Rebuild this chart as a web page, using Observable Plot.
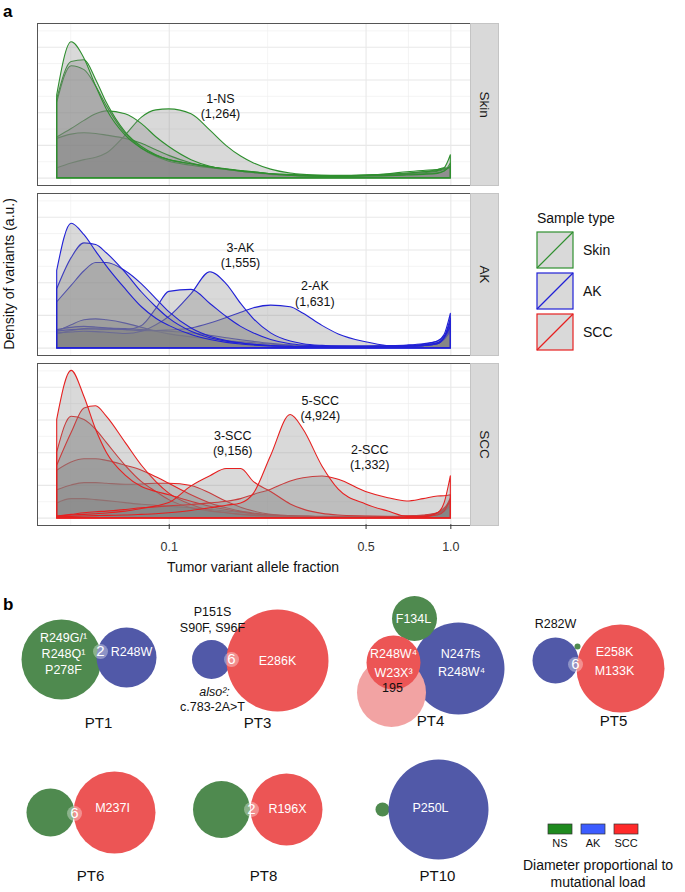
<!DOCTYPE html>
<html>
<head>
<meta charset="utf-8">
<script src="https://cdn.jsdelivr.net/npm/d3@7"></script>
<script src="https://cdn.jsdelivr.net/npm/@observablehq/plot@0.6"></script>
<style>
  html, body { margin: 0; padding: 0; background: #fff; }
  #root { position: relative; width: 685px; height: 892px; overflow: hidden; font-family: "Liberation Sans", Arial, Helvetica, sans-serif; }
</style>
</head>
<body>
<div id="root"></div>
<script>
const FONT = '"Liberation Sans", Arial, Helvetica, sans-serif';

// ================= Panel a data =================
const sampleTypes = ["Skin", "AK", "SCC"];
const lineColors = ["#2f8f2f", "#2121d6", "#e62020"];
const vafGrid = [0.04,0.045,0.05,0.055,0.06,0.07,0.08,0.09,0.1,0.12,0.14,0.16,0.18,0.2,0.23,0.27,0.3,0.35,0.4,0.5,0.6,0.7,0.8,0.9,0.95,1.0];

// density (a.u.) of each sample at vafGrid, drawing order
const skinDensity = [
  [0.3,0.45,0.55,0.62,0.75,1.3,1.85,2.07,2.1,1.95,1.45,0.98,0.66,0.45,0.26,0.14,0.1,0.07,0.06,0.06,0.08,0.12,0.18,0.25,0.3,0.28],   // 1-NS
  [1.2,1.33,1.37,1.35,1.3,1.2,1.05,0.85,0.68,0.45,0.32,0.25,0.2,0.15,0.1,0.08,0.07,0.06,0.06,0.08,0.12,0.18,0.22,0.25,0.27,0.3],
  [1.24,1.5,1.75,1.95,2.04,1.95,1.65,1.25,0.95,0.55,0.35,0.25,0.2,0.16,0.12,0.1,0.08,0.07,0.07,0.08,0.1,0.12,0.15,0.2,0.25,0.3],
  [2.3,3.42,3.3,2.8,2.2,1.35,0.9,0.65,0.5,0.38,0.3,0.25,0.2,0.17,0.12,0.08,0.06,0.05,0.05,0.06,0.08,0.1,0.12,0.15,0.2,0.45],
  [2.4,3.55,3.6,3.0,2.3,1.4,0.95,0.7,0.55,0.42,0.33,0.27,0.22,0.18,0.12,0.08,0.06,0.05,0.05,0.07,0.1,0.14,0.18,0.22,0.3,0.7],
  [2.53,4.15,3.65,2.8,2.1,1.3,0.9,0.68,0.55,0.43,0.33,0.26,0.2,0.16,0.11,0.07,0.05,0.04,0.04,0.05,0.06,0.08,0.1,0.13,0.2,0.35]
];
const akDensity = [
  [0.5,0.7,0.85,0.88,0.85,0.75,0.62,0.5,0.42,0.33,0.27,0.22,0.18,0.15,0.11,0.08,0.06,0.05,0.05,0.05,0.06,0.08,0.12,0.2,0.35,0.7],
  [0.42,0.52,0.58,0.6,0.6,0.58,0.55,0.52,0.5,0.45,0.38,0.3,0.24,0.19,0.13,0.08,0.06,0.04,0.04,0.04,0.05,0.06,0.1,0.2,0.4,1.05],
  [0.55,0.62,0.65,0.63,0.6,0.55,0.52,0.52,0.54,0.6,0.75,0.92,1.08,1.22,1.3,1.25,1.05,0.68,0.42,0.18,0.06,0.03,0.05,0.12,0.3,0.9],  // 2-AK
  [0.45,0.48,0.5,0.49,0.47,0.43,0.5,0.7,0.95,1.65,2.32,1.95,1.35,0.88,0.45,0.2,0.12,0.07,0.05,0.04,0.04,0.05,0.08,0.15,0.3,0.6],     // 3-AK
  [0.5,0.55,0.57,0.57,0.56,0.56,0.68,1.2,1.72,1.78,1.35,0.95,0.65,0.45,0.25,0.12,0.08,0.05,0.04,0.04,0.04,0.05,0.08,0.15,0.3,0.55],
  [1.4,1.9,2.35,2.6,2.6,2.35,1.95,1.5,1.1,0.6,0.35,0.22,0.15,0.1,0.06,0.04,0.03,0.03,0.03,0.03,0.03,0.04,0.06,0.12,0.25,0.5],
  [1.8,2.75,3.2,3.15,2.9,2.3,1.7,1.25,0.9,0.5,0.3,0.2,0.14,0.1,0.06,0.04,0.03,0.03,0.03,0.03,0.03,0.04,0.06,0.12,0.3,0.8],
  [2.36,3.8,3.45,2.95,2.5,1.8,1.25,0.9,0.68,0.4,0.25,0.16,0.11,0.08,0.05,0.04,0.03,0.03,0.03,0.03,0.03,0.04,0.06,0.12,0.3,0.65]
];
const sccDensity = [
  [0.45,0.58,0.58,0.55,0.52,0.46,0.41,0.38,0.35,0.3,0.25,0.2,0.16,0.12,0.08,0.06,0.05,0.04,0.04,0.04,0.04,0.05,0.08,0.15,0.25,0.45],
  [0.85,1.0,1.07,1.07,1.05,1.02,1.03,1.05,1.05,0.98,0.75,0.5,0.32,0.2,0.1,0.06,0.04,0.03,0.03,0.03,0.03,0.04,0.06,0.12,0.2,0.35],
  [1.45,1.7,1.8,1.8,1.75,1.6,1.45,1.25,1.05,0.7,0.45,0.3,0.2,0.14,0.08,0.05,0.04,0.03,0.03,0.03,0.03,0.04,0.06,0.12,0.2,0.4],
  [2.0,3.1,3.0,2.7,2.3,1.6,1.1,0.8,0.55,0.3,0.2,0.15,0.1,0.08,0.05,0.04,0.03,0.03,0.03,0.03,0.03,0.04,0.06,0.12,0.25,0.6],
  [1.6,2.6,3.35,3.42,3.1,2.3,1.6,1.1,0.75,0.4,0.22,0.15,0.1,0.07,0.05,0.04,0.03,0.03,0.03,0.03,0.03,0.04,0.06,0.12,0.25,0.5],
  [3.0,4.5,3.7,2.7,2.0,1.3,0.95,0.8,0.7,0.5,0.35,0.25,0.18,0.12,0.08,0.05,0.04,0.03,0.03,0.03,0.03,0.04,0.06,0.15,0.3,0.5],
  [0.05,0.1,0.15,0.18,0.2,0.25,0.3,0.33,0.36,0.4,0.45,0.5,0.58,0.71,0.87,1.12,1.22,1.27,1.17,0.8,0.61,0.51,0.58,0.66,0.67,0.7],   // 2-SCC
  [0.05,0.08,0.1,0.12,0.14,0.2,0.28,0.36,0.46,0.97,1.28,1.5,1.5,1.1,0.8,0.42,0.26,0.13,0.08,0.05,0.03,0.02,0.03,0.08,0.2,0.55],   // 3-SCC
  [0.03,0.04,0.05,0.06,0.07,0.08,0.1,0.12,0.15,0.22,0.3,0.38,0.45,0.75,1.9,3.15,2.7,1.58,0.87,0.42,0.2,0.04,0.03,0.15,0.45,1.28]  // 5-SCC
];
const labelPanel = ["Skin", "AK", "AK", "SCC", "SCC", "SCC"];
const labelVaf   = [0.152, 0.179, 0.329, 0.344, 0.168, 0.515];
const labelY     = [2.22, 2.85, 1.68, 3.38, 2.3, 1.87];
const labelText  = ["1-NS\n(1,264)", "3-AK\n(1,555)", "2-AK\n(1,631)", "5-SCC\n(4,924)", "3-SCC\n(9,156)", "2-SCC\n(1,332)"];
const xTicks = [0.1, 0.5, 1.0];
const xTickLabels = ["0.1", "0.5", "1.0"];
const xMinor = [0.0447, 0.2236, 0.7071];
const yMajor = [0, 1, 2, 3, 4];
const yMinor = [0.5, 1.5, 2.5, 3.5, 4.5];

// ================= Panel b data =================
const typeColors = {NS: "#4f8a4f", AK: "#5159a8", SCC: "#ec5555", SCC2: "#f2a3a3"};
const legendColors = {NS: "#1f8a1f", AK: "#3c5cff", SCC: "#ff2a2a"};
// circle centres (layout units) and diameter ~ mutational load (a.u.)
const bubbleType = ["NS","AK", "AK","SCC", "AK","NS","SCC2","SCC", "AK","SCC","NS", "NS","SCC", "NS","SCC", "NS","AK"];
const bubbleX    = [61,126, 211,277, 458,414,391,393, 555,620,577, 50,114, 221,286, 382,438];
const bubbleY    = [659,657, 659,660, 668,618,692,662, 660,668,646, 812,812, 809,809, 809,809];
const bubbleLoad = [80,60, 39,102, 92,45,69,54, 46,88,6, 48,82, 57,72, 14,100];
const sharedX = [100, 231, 575, 74, 251];
const sharedY = [651, 659, 664, 813, 809];
const sharedN = ["2", "6", "6", "6", "2"];
const mutX = [63,63,63,131, 212,212,212, 277, 413,393,393,392,460,461, 555,614,614, 112,287,430];
const mutY = [637,653,669,651, 611,627,706, 660, 618,653,672,687,653,671, 623,651,670, 807,808,807];
const mutText = ["R249G/¹","R248Q¹","P278F","R248W", "P151S","S90F, S96F","c.783-2A>T", "E286K", "F134L","R248W⁴","W23X³","195","N247fs","R248W⁴", "R282W","E258K","M133K", "M237I","R196X","P250L"];
const mutDark = [0,0,0,0, 1,1,1, 0, 0,0,0,1,0,0, 1,0,0, 0,0,0];
const alsoNote = {x: 214, y: 691, text: "also²:"};
const patients = ["PT1","PT3","PT4","PT5","PT6","PT8","PT10"];
const patientX = [98, 257, 430, 613, 90, 263, 437];
const patientY = [723, 723, 721, 721, 876, 876, 876];

// ================= Build panel a =================
const densityRows = [];
[skinDensity, akDensity, sccDensity].forEach((curves, p) => {
  curves.forEach((vals, i) => vals.forEach((v, j) => densityRows.push({panel: sampleTypes[p], id: sampleTypes[p] + i, vaf: vafGrid[j], value: v})));
});
const labels = labelText.map((t, i) => ({panel: labelPanel[i], vaf: labelVaf[i], value: labelY[i], text: t}));
const ticks = xTicks.map((v, i) => ({v, label: xTickLabels[i], panel: sampleTypes[sampleTypes.length - 1]}));

const A = {width: 685, height: 592, top: 23, bottom: 67, left: 37, right: 215, padInner: 0.05};
const facetBand = (A.height - A.top - A.bottom) / (sampleTypes.length - A.padInner) * (1 - A.padInner);

const plotA = Plot.plot({
  width: A.width, height: A.height,
  marginTop: A.top, marginBottom: A.bottom, marginLeft: A.left, marginRight: A.right,
  style: {fontFamily: FONT, fontSize: "12.5px", color: "#333", background: "transparent", overflow: "visible"},
  x: {type: "log", domain: [0.03405, 1.1745], axis: null},
  y: {domain: [-0.225, 4.725], axis: null},
  fy: {domain: sampleTypes, paddingInner: A.padInner, paddingOuter: 0, axis: null, label: null},
  marks: [
    Plot.frame({fill: "white"}),
    Plot.gridY(yMinor, {stroke: "#ececec", strokeOpacity: 1, strokeWidth: 0.6}),
    Plot.gridY(yMajor, {stroke: "#e8e8e8", strokeOpacity: 1, strokeWidth: 1.1}),
    Plot.gridX(xMinor, {stroke: "#ececec", strokeOpacity: 1, strokeWidth: 0.6}),
    Plot.gridX(xTicks, {stroke: "#e8e8e8", strokeOpacity: 1, strokeWidth: 1.1}),
    ...sampleTypes.map((p, k) => Plot.area(densityRows.filter(d => d.panel === p), {
      x1: "vaf", y1: 0, y2: "value", z: "id", fy: "panel",
      fill: "#808080", fillOpacity: 0.3, stroke: lineColors[k], strokeWidth: 1.1, curve: "monotone-x"
    })),
    Plot.text(labels, {x: "vaf", y: "value", fy: "panel", text: "text", fontSize: 12.5, lineHeight: 1.22, fill: "#111", lineAnchor: "middle"}),
    Plot.frame({stroke: "#555", strokeWidth: 1}),
    Plot.frame({fill: "#d9d9d9", stroke: "#c4c4c4", insetLeft: A.width - A.left - A.right, insetRight: -28}),
    Plot.text(sampleTypes, {fy: d => d, text: d => d, frameAnchor: "right", dx: 14, rotate: 90, textAnchor: "middle", lineAnchor: "middle", fontSize: 13.5, fill: "#1a1a1a"}),
    // x axis (bottom facet only): ticks and labels
    Plot.tickX(ticks, {x: "v", fy: "panel", stroke: "#333", strokeWidth: 1, insetTop: facetBand - 0.5, insetBottom: -4}),
    Plot.text(ticks, {x: "v", fy: "panel", text: "label", frameAnchor: "bottom", dy: 21, lineAnchor: "middle", fontSize: 12.5, fill: "#333"})
  ]
});
plotA.style.position = "absolute"; plotA.style.left = "0px"; plotA.style.top = "0px";

// ================= Build panel b =================
const bubbles = bubbleType.map((t, i) => ({type: t, cx: bubbleX[i], cy: bubbleY[i], load: bubbleLoad[i]}));
const shared = sharedN.map((n, i) => ({x: sharedX[i], y: sharedY[i], n}));
const muts = mutText.map((t, i) => ({x: mutX[i], y: mutY[i], text: t, dark: mutDark[i]}));
const pts = patients.map((p, i) => ({x: patientX[i], y: patientY[i], text: p}));

const plotB = Plot.plot({
  width: 685, height: 300, margin: 0,
  style: {fontFamily: FONT, background: "transparent", overflow: "visible"},
  x: {domain: [0, 685], range: [0, 685], axis: null},
  y: {domain: [592, 892], range: [0, 300], axis: null},
  r: {type: "linear", domain: [0, 100], range: [0, 50]},
  color: {type: "identity"},
  marks: [
    Plot.dot(bubbles, {x: "cx", y: "cy", r: "load", fill: d => typeColors[d.type], sort: null}),
    Plot.dot(shared, {x: "x", y: "y", r: 7.5, fill: "white", fillOpacity: 0.35}),
    Plot.text(shared, {x: "x", y: "y", text: "n", fill: "white", fontSize: 15}),
    Plot.text(muts, {x: "x", y: "y", text: "text", fill: d => d.dark ? "#111" : "white", fontSize: 12.5}),
    Plot.text([alsoNote], {x: "x", y: "y", text: "text", fill: "#111", fontSize: 12.5, fontStyle: "italic"}),
    Plot.text(pts, {x: "x", y: "y", text: "text", fill: "#111", fontSize: 15})
  ]
});
plotB.style.position = "absolute"; plotB.style.left = "0px"; plotB.style.top = "592px";

const root = document.getElementById("root");
root.appendChild(plotA);
root.appendChild(plotB);

// ================= Titles & legends =================
const svg = d3.select(root).append("svg")
  .attr("width", 685).attr("height", 892)
  .style("position", "absolute").style("left", "0px").style("top", "0px")
  .style("font-family", FONT).style("pointer-events", "none");

svg.append("text").attr("x", 3).attr("y", 17).attr("font-size", 17).attr("font-weight", "bold").text("a");
svg.append("text").attr("x", 3).attr("y", 610).attr("font-size", 17).attr("font-weight", "bold").text("b");
svg.append("text").attr("transform", "translate(14,274) rotate(-90)").attr("text-anchor", "middle")
  .attr("font-size", 14).attr("fill", "#111").text("Density of variants (a.u.)");
svg.append("text").attr("x", 253).attr("y", 572).attr("text-anchor", "middle")
  .attr("font-size", 14).attr("fill", "#111").text("Tumor variant allele fraction");

// Sample type legend
const lg = svg.append("g");
lg.append("text").attr("x", 537).attr("y", 223).attr("font-size", 14).attr("fill", "#111").text("Sample type");
sampleTypes.forEach((t, i) => {
  const y0 = 232 + 41 * i;
  lg.append("rect").attr("x", 537).attr("y", y0).attr("width", 36).attr("height", 36)
    .attr("fill", "#d9d9d9").attr("stroke", lineColors[i]).attr("stroke-width", 1.2);
  lg.append("line").attr("x1", 537).attr("y1", y0 + 36).attr("x2", 573).attr("y2", y0)
    .attr("stroke", lineColors[i]).attr("stroke-width", 1.2);
  lg.append("text").attr("x", 583).attr("y", y0 + 23).attr("font-size", 14).attr("fill", "#111").text(t);
});

// Bubble colour legend
const lb = svg.append("g");
["NS", "AK", "SCC"].forEach((t, i) => {
  const cx = 560 + 33 * i;
  lb.append("rect").attr("x", cx - 12).attr("y", 824).attr("width", 24).attr("height", 10)
    .attr("fill", legendColors[t]).attr("stroke", "#333").attr("stroke-width", 0.7);
  lb.append("text").attr("x", cx).attr("y", 847).attr("text-anchor", "middle").attr("font-size", 11).attr("fill", "#111").text(t);
});
lb.append("text").attr("x", 598).attr("y", 870).attr("text-anchor", "middle").attr("font-size", 14).attr("fill", "#111").text("Diameter proportional to");
lb.append("text").attr("x", 598).attr("y", 887).attr("text-anchor", "middle").attr("font-size", 14).attr("fill", "#111").text("mutational load");
</script>
</body>
</html>
